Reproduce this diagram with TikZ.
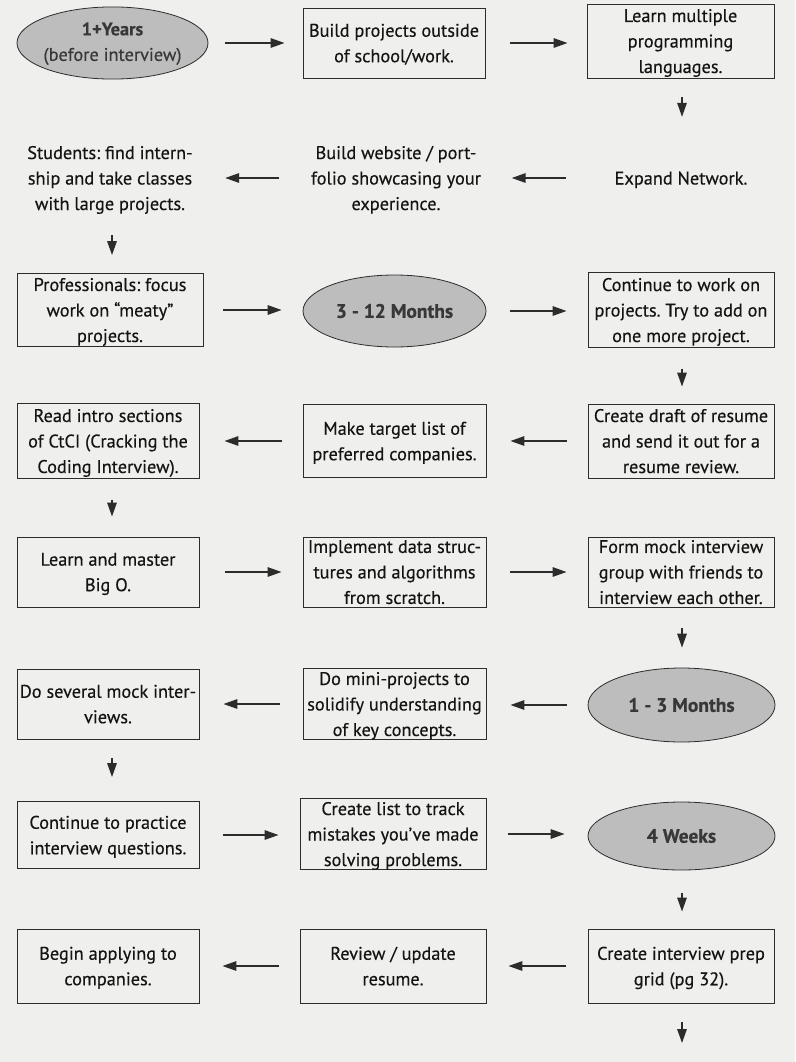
\documentclass[tikz,border=0pt]{standalone}
\usepackage{fontspec}
\setmainfont{PT Sans}[FakeBold=0.35]
\newfontfamily\ellfont{PT Sans}[FakeBold=0.5]
\usetikzlibrary{shapes.geometric,arrows.meta}
\frenchspacing
\definecolor{bg}{HTML}{EFEFED}
\definecolor{ink}{HTML}{141414}
\definecolor{boxc}{HTML}{2C2C2C}
\definecolor{ellfill}{HTML}{BDBDBD}
\definecolor{elltxt}{HTML}{383838}
\newcommand{\fs}{\fontsize{18.3}{25.5}\selectfont}
\newcommand{\efs}{\ellfont\fontsize{19.5}{25.5}\selectfont}
\tikzset{
  stepbox/.style={draw=boxc, line width=0.9pt, align=center, inner sep=0pt, font=\fs, text=ink, text depth=-1pt},
  plain/.style={align=center, inner sep=0pt, font=\fs, text=ink, text depth=-1pt},
  oval/.style={ellipse, draw=boxc, line width=0.8pt, fill=ellfill, inner sep=0pt, font=\efs, text=elltxt},
  arr/.style={draw=boxc, line width=1.6pt, -{Triangle[length=14pt,width=9.5pt]}},
}
\begin{document}
\begin{tikzpicture}[x=1pt,y=-1pt]
\useasboundingbox (0,0) rectangle (795,1062);
\fill[bg] (0,0) rectangle (795,1062);
% Row 1
\node[oval, minimum width=191pt, minimum height=70pt] (e1) at (112.5,43) {\makebox[100pt]{\fs\begin{tabular}{@{}c@{}}\textbf{1+Years}\\(before interview)\end{tabular}}};
\node[stepbox, minimum width=182pt, minimum height=70pt] (b12) at (394,43) {Build projects outside\\of school/work.};
\node[stepbox, minimum width=187pt, minimum height=74pt] (b13) at (680.5,41) {Learn multiple\\programming\\languages.};
% Row 2
\node[plain, minimum width=182pt, minimum height=74pt] (t21) at (110,178) {Students: find intern-\\ship and take classes\\with large projects.};
\node[plain, minimum width=183pt, minimum height=74pt] (t22) at (396,178) {Build website / port-\\folio showcasing your\\experience.};
\node[plain, minimum width=186pt, minimum height=74pt] (t23) at (681,178) {Expand Network.};
% Row 3
\node[stepbox, minimum width=186pt, minimum height=73pt] (b31) at (110,310) {Professionals: focus\\work on “meaty”\\projects.};
\node[oval, minimum width=183pt, minimum height=72pt] (e32) at (394.5,311) {\textbf{3 - 12 Months}};
\node[stepbox, minimum width=186pt, minimum height=75pt] (b33) at (681,310) {Continue to work on\\projects. Try to add on\\one more project.};
% Row 4
\node[stepbox, minimum width=182pt, minimum height=75pt] (b41) at (108,441) {Read intro sections\\of CtCI (Cracking the\\Coding Interview).};
\node[stepbox, minimum width=183pt, minimum height=73pt] (b42) at (394.5,441) {Make target list of\\preferred companies.};
\node[stepbox, minimum width=186pt, minimum height=74pt] (b43) at (681,441) {Create draft of resume\\and send it out for a\\resume review.};
% Row 5
\node[stepbox, minimum width=182pt, minimum height=70pt] (b51) at (108,572) {Learn and master\\Big O.};
\node[stepbox, minimum width=183pt, minimum height=70pt] (b52) at (394.5,572) {Implement data struc-\\tures and algorithms\\from scratch.};
\node[stepbox, minimum width=186pt, minimum height=70pt] (b53) at (681,572) {Form mock interview\\group with friends to\\interview each other.};
% Row 6
\node[stepbox, minimum width=182pt, minimum height=70pt] (b61) at (108,704) {Do several mock inter-\\views.};
\node[stepbox, minimum width=183pt, minimum height=71pt] (b62) at (394.5,704) {Do mini-projects to\\solidify understanding\\of key concepts.};
\node[oval, minimum width=187pt, minimum height=74pt] (e63) at (681.5,705) {\textbf{1 - 3 Months}};
% Row 7
\node[stepbox, minimum width=182pt, minimum height=67pt] (b71) at (108,835) {Continue to practice\\interview questions.};
\node[stepbox, minimum width=186pt, minimum height=71pt] (b72) at (393,834) {Create list to track\\mistakes you’ve made\\solving problems.};
\node[oval, minimum width=187pt, minimum height=68pt] (e73) at (681.5,836) {\textbf{4 Weeks}};
% Row 8
\node[stepbox, minimum width=182pt, minimum height=74pt] (b81) at (108,966) {Begin applying to\\companies.};
\node[stepbox, minimum width=186pt, minimum height=74pt] (b82) at (393,966) {Review / update\\resume.};
\node[stepbox, minimum width=186pt, minimum height=74pt] (b83) at (681,966) {Create interview prep\\grid (pg 32).};
\coordinate (end) at (682,1043);
% Horizontal arrows
\draw[arr, shorten <=17pt, shorten >=18pt] (e1) -- (e1 -| b12.west);
\draw[arr, shorten <=25pt, shorten >=19pt] (b12.east) -- (b12.east -| b13.west);
\draw[arr, shorten <=22pt, shorten >=24pt] (t23.west) -- (t23.west -| t22.east);
\draw[arr, shorten <=25pt, shorten >=24pt] (t22.west) -- (t22.west -| t21.east);
\draw[arr, shorten <=20pt, shorten >=21pt] (b31.east) -- (b31.east -| e32.west);
\draw[arr, shorten <=24pt, shorten >=21pt] (e32.east) -- (e32.east -| b33.west);
\draw[arr, shorten <=21pt, shorten >=24pt] (b43.west) -- (b43.west -| b42.east);
\draw[arr, shorten <=21pt, shorten >=25pt] (b42.west) -- (b42.west -| b41.east);
\draw[arr, shorten <=26pt, shorten >=21pt] (b51.east) -- (b51.east -| b52.west);
\draw[arr, shorten <=24pt, shorten >=21pt] (b52.east) -- (b52.east -| b53.west);
\draw[arr, shorten <=21pt, shorten >=24pt] (e63.west) -- (e63.west -| b62.east);
\draw[arr, shorten <=23pt, shorten >=24pt] (b62.west) -- (b62.west -| b61.east);
\draw[arr, shorten <=24pt, shorten >=21pt] (b71.east) -- (b71.east -| b72.west);
\draw[arr, shorten <=22pt, shorten >=23pt] (b72.east) -- (b72.east -| e73.west);
\draw[arr, shorten <=22pt, shorten >=22pt] (b83.west) -- (b83.west -| b82.east);
\draw[arr, shorten <=21pt, shorten >=23pt] (b82.west) -- (b82.west -| b81.east);
% Vertical arrows
\draw[arr, shorten <=19pt, shorten >=24pt] ([xshift=1.5pt]b13.south) -- ([xshift=1pt]t23.north);
\draw[arr, shorten <=20pt, shorten >=18pt] ([xshift=2pt]t21.south) -- ([xshift=2pt]t21.south |- b31.north);
\draw[arr, shorten <=21pt, shorten >=17pt] ([xshift=1pt]b33.south) -- ([xshift=1pt]b43.north);
\draw[arr, shorten <=21pt, shorten >=20pt] ([xshift=4pt]b41.south) -- ([xshift=4pt]b51.north);
\draw[arr, shorten <=21pt, shorten >=20pt] ([xshift=1pt]b53.south) -- ([xshift=1pt]b53.south |- e63.north);
\draw[arr, shorten <=19pt, shorten >=24pt] ([xshift=4pt]b61.south) -- ([xshift=4pt]b71.north);
\draw[arr, shorten <=23pt, shorten >=17pt] ([xshift=0.5pt]e73.south) -- ([xshift=0.5pt]e73.south |- b83.north);
\draw[arr, shorten <=19pt] ([xshift=1pt]b83.south) -- (end);
\end{tikzpicture}
\end{document}
